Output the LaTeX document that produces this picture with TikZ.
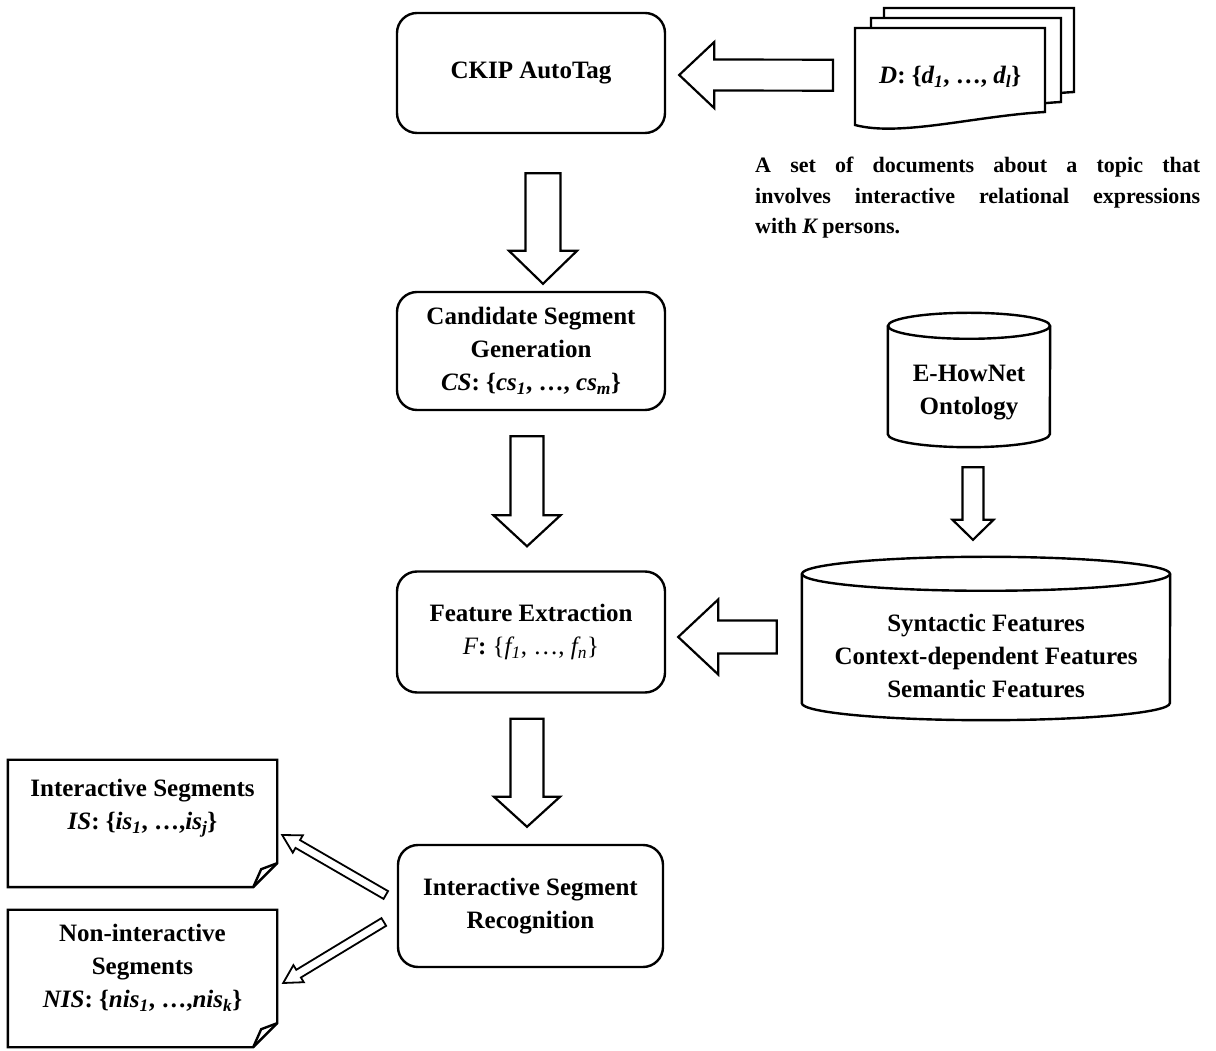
\documentclass[tikz,border=0pt]{standalone}
\usepackage{fontspec}
\setmainfont{Liberation Serif}
\usetikzlibrary{calc}
\newcommand{\sub}[1]{\textsubscript{\itshape #1}}
\newcommand{\blockarrow}[6][]{%
  \draw[blockarr,#1] let \p1=($(#3)-(#2)$), \n1={atan2(\y1,\x1)}, \n2={veclen(\x1,\y1)} in
    [shift={(#2)},rotate=\n1]
    (0,-#4) -- (\n2-#6,-#4) -- (\n2-#6,-#5) -- (\n2,0) -- (\n2-#6,#5) -- (\n2-#6,#4) -- (0,#4) -- cycle;}
\newcommand{\cyl}[3]{%
  \draw[outline] ([yshift=#3]#1.north west) -- ([yshift=#3]#1.south west)
    arc[start angle=180,end angle=360,x radius=#2,y radius=#3] -- ([yshift=#3]#1.north east);
  \draw[outline] ([yshift=#3]#1.north) ellipse[x radius=#2,y radius=#3];}
\newcommand{\foldpage}[1]{%
  \draw[outline] (#1.north west) -- (#1.north east) -- ([yshift=24]#1.south east)
    -- ([xshift=-24]#1.south east) -- (#1.south west) -- cycle;
  \draw[outline] ([xshift=-24]#1.south east) -- ++(8,18) -- ([yshift=24]#1.south east);}
\tikzset{
  boxfont/.style={font=\fontsize{25}{33}\selectfont\bfseries},
  procbox/.style={boxfont,draw,line width=2.4pt,rounded corners=20pt,minimum width=268pt,
    minimum height=120pt,align=center,inner sep=0pt},
  plainbox/.style={boxfont,align=center,inner sep=0pt},
  outline/.style={draw,line width=2.4pt,line join=miter},
  sheet/.style={draw,line width=2.4pt,fill=white},
  blockarr/.style={draw,line width=2.2pt,fill=white,line join=miter},
  thinarr/.style={draw,line width=1.8pt,fill=white,line join=miter},
  captext/.style={font=\fontsize{22}{30.5}\selectfont\bfseries,text width=445pt,align=justify,inner sep=0pt}
}
\begin{document}
\begin{tikzpicture}[x=1pt,y=1pt]
\useasboundingbox (0,0) rectangle (1216,1050);
\node[procbox] (autotag) at (531,977) {CKIP AutoTag};
\node[procbox,minimum height=118pt] (csg) at (531,699) {Candidate Segment\\Generation\\{\itshape CS}: \{{\itshape cs}\sub{1}, \ldots, {\itshape cs}\sub{m}\}};
\node[procbox,minimum height=121pt] (fe) at (531,418) {Feature Extraction\\{\mdseries\itshape F}: {\mdseries\{{\itshape f}\sub{1}, \ldots, {\itshape f}\sub{n}\}}};
\node[procbox,minimum width=265pt,minimum height=122pt] (isr) at (530.5,144) {Interactive Segment\\Recognition};
% document stack
\coordinate (dnw) at (855,1022);
\foreach \dx/\dy in {29/20,16/10,0/0}
  \draw[sheet] ([shift={(\dx,\dy)}]dnw) -- ++(190,0) -- ++(0,-84)
    .. controls +(-70,-4) and +(45,-12) .. ++(-190,-13) -- cycle;
\node[plainbox,anchor=north west,minimum width=190pt,minimum height=97pt] (docs) at (dnw) {{\itshape D}: \{{\itshape d}\sub{1}, \ldots, {\itshape d}\sub{l}\}};
\node[captext,anchor=north west] (topic) at (755,893) {A set of documents about a topic that\linebreak involves interactive relational expressions\linebreak with {\itshape K} persons.};
% ontology and features
\node[plainbox,minimum width=162pt,minimum height=108pt] (ehownet) at (969,657) {E-HowNet\\Ontology};
\cyl{ehownet}{81}{13}
\node[plainbox,minimum width=368pt,minimum height=129pt] (features) at (986,394.5) {Syntactic Features\\Context-dependent Features\\Semantic Features};
\cyl{features}{184}{17}
% output segments
\node[plainbox,minimum width=269pt,minimum height=127pt,text depth=38pt] (is) at (142.5,226.5) {Interactive Segments\\{\itshape IS}: \{{\itshape is}\sub{1}, \ldots,{\itshape is}\sub{j}\}};
\foldpage{is}
\node[plainbox,minimum width=269pt,minimum height=137pt,text depth=25pt] (nis) at (142.5,71.5) {Non-interactive\\Segments\\{\itshape NIS}: \{{\itshape nis}\sub{1}, \ldots,{\itshape nis}\sub{k}\}};
\foldpage{nis}
% arrows
\coordinate (t1) at ([xshift=-22,yshift=1.5]docs.west);
\coordinate (h1) at ([xshift=13,yshift=-2]autotag.east);
\coordinate (t2) at ([xshift=12,yshift=-39]autotag.south);
\coordinate (h2) at ([xshift=12,yshift=7]csg.north);
\coordinate (t3) at ([xshift=-4,yshift=-25]csg.south);
\coordinate (h3) at ([xshift=-4,yshift=24]fe.north);
\coordinate (t4) at ([xshift=-4,yshift=-25]fe.south);
\coordinate (h4) at ([xshift=-3.5,yshift=17]isr.north);
\coordinate (t5) at ([xshift=4,yshift=-20]ehownet.south);
\coordinate (h5) at ([xshift=-13,yshift=51]features.north);
\coordinate (t6) at ([xshift=-25,yshift=18.5]features.west);
\coordinate (h6) at ([xshift=12,yshift=-5]fe.east);
\coordinate (t7) at ([xshift=-11,yshift=11]isr.west);
\coordinate (h7) at ([xshift=5,yshift=-11.5]is.east);
\coordinate (t8) at ([xshift=-13,yshift=-16]isr.west);
\coordinate (h8) at ([xshift=6,yshift=-4.5]nis.east);
\blockarrow{t1}{h1}{15.5}{33}{35}
\blockarrow{t2}{h2}{17.5}{34}{33}
\blockarrow{t3}{h3}{16.5}{33.5}{31}
\blockarrow{t4}{h4}{16.5}{33}{30}
\blockarrow{t5}{h5}{10.5}{20.5}{20}
\blockarrow{t6}{h6}{16.5}{37.5}{40}
\blockarrow[thinarr]{t7}{h7}{4.5}{10}{18}
\blockarrow[thinarr]{t8}{h8}{4.5}{10}{18}
\end{tikzpicture}
\end{document}
